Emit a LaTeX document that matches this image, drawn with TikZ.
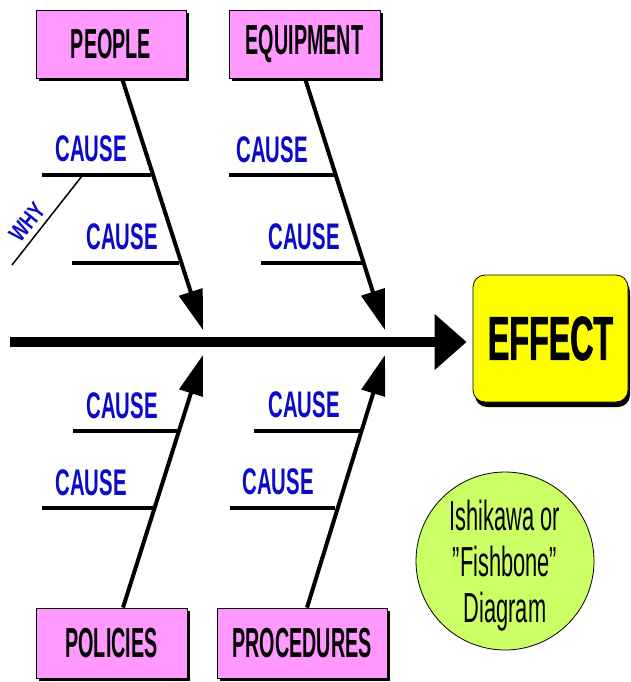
\documentclass[tikz,border=0pt]{standalone}
\usepackage{fontspec}
\usetikzlibrary{arrows.meta,shadows,calc}
\newfontfamily\boxfont{Liberation Sans}[FakeStretch=0.47]
\newfontfamily\causefont{Liberation Sans}[FakeStretch=0.55]
\newfontfamily\effectfont{Liberation Sans}[FakeStretch=0.52,FakeBold=1.2]
\newfontfamily\notefont{Liberation Sans}[FakeStretch=0.52]
\newfontfamily\whyfont{Liberation Sans}[FakeStretch=0.75]
\definecolor{boxpink}{RGB}{255,153,255}
\definecolor{effyellow}{RGB}{255,255,0}
\definecolor{notegreen}{RGB}{204,255,102}
\definecolor{causeblue}{RGB}{10,10,200}
\tikzset{
  catbox/.style={draw=black, line width=0.8pt, fill=boxpink, inner sep=0pt,
    drop shadow={shadow xshift=3pt, shadow yshift=-3pt, fill=black, opacity=1},
    font=\boxfont\bfseries\fontsize{42}{42}\selectfont},
  bone/.style={line width=4pt, -{Triangle[length=40pt,width=24pt]}},
  rib/.style={line width=4pt},
  causetext/.style={text=causeblue, inner sep=0pt, font=\causefont\bfseries\fontsize{37}{37}\selectfont},
}
\begin{document}
\begin{tikzpicture}[x=1pt,y=-1pt]
\path[use as bounding box, fill=white] (0,0) rectangle (630,682);

% category boxes
\node[catbox, minimum width=150pt, minimum height=68pt] (people) at (111,44) {PEOPLE};
\node[catbox, minimum width=151pt, minimum height=68pt] (equip) at (304.5,44) {EQUIPMENT};
\node[catbox, minimum width=151pt, minimum height=70pt] (policies) at (111.5,643) {POLICIES};
\node[catbox, minimum width=170pt, minimum height=70pt] (proc) at (302,643) {PROCEDURES};

% effect box
\node[draw=black, line width=0.8pt, fill=effyellow, rounded corners=12pt,
  minimum width=155pt, minimum height=127pt, inner sep=0pt,
  drop shadow={shadow xshift=2pt, shadow yshift=-5pt, fill=black, opacity=1},
  font=\effectfont\bfseries\fontsize{62}{62}\selectfont] (effect) at (550.5,338.5) {EFFECT};

% note circle
\node[circle, draw=black, line width=0.8pt, fill=notegreen, minimum size=178pt, inner sep=0pt] (note) at (505,561) {};
\node[align=center, inner sep=0pt, font=\notefont\fontsize{42}{46}\selectfont] (notetext) at (505,566) {Ishikawa or\\”Fishbone”\\Diagram};

% spine
\coordinate (tail) at (10,342);
\draw[line width=10pt, -{Triangle[length=32pt,width=54pt]}, shorten >=6pt] (tail) -- (effect.west |- tail);

% bone tips
\coordinate (tp) at (203,330);
\coordinate (te) at (385,330);
\coordinate (tpo) at (203,355);
\coordinate (tpr) at (385,355);

\draw[bone] ($(people.south)+(11,0)$) -- (tp);
\draw[bone] ($(equip.south)+(0.5,0)$) -- (te);
\draw[bone] ($(policies.north)+(11.5,0)$) -- (tpo);
\draw[bone] ($(proc.north)+(5,0)$) -- (tpr);

% cause ribs
\draw[rib] (42,175) coordinate (r1a) -- (151,175) coordinate (r1b);
\draw[rib] (72,263) coordinate (r2a) -- (179,263) coordinate (r2b);
\draw[rib] (229,175) coordinate (r3a) -- (334,175) coordinate (r3b);
\draw[rib] (261,263) coordinate (r4a) -- (362,263) coordinate (r4b);
\draw[rib] (73,431) coordinate (r5a) -- (178,431) coordinate (r5b);
\draw[rib] (42,508) coordinate (r6a) -- (153,508) coordinate (r6b);
\draw[rib] (254,431) coordinate (r7a) -- (360,431) coordinate (r7b);
\draw[rib] (230,508) coordinate (r8a) -- (335,508) coordinate (r8b);

\node[causetext] (c1) at (91,149) {CAUSE};
\node[causetext] (c2) at (122,237) {CAUSE};
\node[causetext] (c3) at (272,150) {CAUSE};
\node[causetext] (c4) at (304,237) {CAUSE};
\node[causetext] (c5) at (122,406) {CAUSE};
\node[causetext] (c6) at (91,483) {CAUSE};
\node[causetext] (c7) at (304,405) {CAUSE};
\node[causetext] (c8) at (278,482) {CAUSE};

% why
\coordinate (whyend) at (12,265);
\draw[line width=1.5pt] (whyend) -- (82,176) coordinate (whystart);
\node[text=causeblue, inner sep=0pt, rotate=51.5, font=\whyfont\bfseries\fontsize{24}{24}\selectfont] (why) at (27,222) {WHY};
\end{tikzpicture}
\end{document}
